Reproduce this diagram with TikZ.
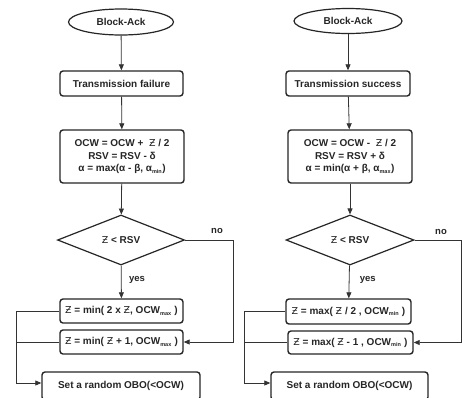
\documentclass[tikz,border=0pt]{standalone}
\usepackage{fontspec}
\setmainfont{Liberation Sans}
\newfontfamily\zfont{DejaVu Sans}
\usetikzlibrary{shapes.geometric,arrows.meta}
\newcommand{\Zs}{{\zfont\mdseries\fontsize{9.5}{10}\selectfont Ƶ}}
\newcommand{\sub}[1]{\textsubscript{\fontsize{5.5}{6}\selectfont #1}}
\tikzset{
  every node/.style={font=\fontsize{10}{12.5}\selectfont\bfseries, text=black!85},
  term/.style={ellipse, draw=black!85, line width=1.2pt, inner sep=0pt},
  proc/.style={rectangle, rounded corners=3pt, draw=black!85, line width=1.4pt, inner sep=0pt, align=center},
  dec/.style={diamond, draw=black!85, line width=1.2pt, inner sep=0pt, aspect=2.5},
  conn/.style={draw=black!80, line width=0.8pt},
  arr/.style={conn, -{Triangle[length=6pt,width=5pt]}},
  lbl/.style={font=\fontsize{9.5}{11}\selectfont\bfseries}
}
\begin{document}
\begin{tikzpicture}[x=1pt,y=-1pt]
\useasboundingbox (0,0) rectangle (462,397);
\clip (0,0) rectangle (462,397);
\fill[white] (0,0) rectangle (462,397);
% ---------- left column ----------
\node[term, minimum width=105pt, minimum height=26pt] (ba1) at (121,22) {Block-Ack};
\node[proc, minimum width=123pt, minimum height=25pt] (tf) at (121.5,83.5) {Transmission failure};
\node[proc, minimum width=124pt, minimum height=53pt] (ocw1) at (122,156.5) {OCW = OCW +\ \ \Zs\ / 2\\RSV = RSV - δ\\α = max(α - β, α\sub{min})};
\node[dec, minimum width=127pt, minimum height=50pt] (d1) at (121,240) {\Zs\ < RSV};
\node[proc, minimum width=123pt, minimum height=24pt] (z1) at (121.5,311) {\Zs\ = min( 2 x \Zs, OCW\sub{max} )};
\node[proc, minimum width=123pt, minimum height=24pt] (z2) at (121.5,342) {\Zs\ = min( \Zs\ + 1, OCW\sub{max} )};
\node[proc, minimum width=158pt, minimum height=28pt] (s1) at (121,386) {Set a random OBO(<OCW)};
\coordinate (nl1) at (233,240);
\coordinate (bt1) at (16,311);
\coordinate (bb1) at (16,383);
\draw[arr] (ba1) -- (tf);
\draw[arr] (tf) -- (ocw1);
\draw[arr] (ocw1) -- (d1);
\draw[arr] (d1) -- node[lbl, right=4pt, pos=0.45] (y1) {yes} (z1);
\draw[conn] (d1.east) -- (nl1);
\node[lbl] (n1) at (217,231) {no};
\draw[arr] (nl1) |- (z2.east);
\draw[conn] (z1.west) -- (bt1);
\draw[conn] (z2.west) -- (bt1 |- z2.west);
\draw[arr] (bt1) -- (bb1) -- (bb1 -| s1.west);
% ---------- right column ----------
\node[term, minimum width=108pt, minimum height=25pt] (ba2) at (348,21) {Block-Ack};
\node[proc, minimum width=124pt, minimum height=25pt] (ts) at (348,83.5) {Transmission success};
\node[proc, minimum width=124pt, minimum height=53pt] (ocw2) at (350,156.5) {OCW = OCW -\ \ \Zs\ / 2\\RSV = RSV + δ\\α = min(α + β, α\sub{max})};
\node[dec, minimum width=128pt, minimum height=50pt] (d2) at (350,240) {\Zs\ < RSV};
\node[proc, minimum width=125pt, minimum height=25pt] (z3) at (348.5,311.5) {\Zs\ = max( \Zs\ / 2 , OCW\sub{min} )};
\node[proc, minimum width=125pt, minimum height=23pt] (z4) at (350.5,342.5) {\Zs\ = max( \Zs\ - 1 , OCW\sub{min} )};
\node[proc, minimum width=157pt, minimum height=28pt] (s2) at (349.5,386) {Set a random OBO(<OCW)};
\coordinate (nl2) at (461,240);
\coordinate (bt2) at (244,311.5);
\coordinate (bb2) at (244,383);
\draw[arr] (ba2) -- (ts);
\draw[arr] (ts) -- (ocw2);
\draw[arr] (ocw2) -- (d2);
\draw[arr] (d2) -- node[lbl, right=7pt, pos=0.45] (y2) {yes} (z3);
\draw[conn] (d2.east) -- (nl2);
\node[lbl] (n2) at (441,232) {no};
\draw[arr] (nl2) |- (z4.east);
\draw[conn] (z3.west) -- (bt2);
\draw[conn] (z4.west) -- (bt2 |- z4.west);
\draw[arr] (bt2) -- (bb2) -- (bb2 -| s2.west);
\end{tikzpicture}
\end{document}
